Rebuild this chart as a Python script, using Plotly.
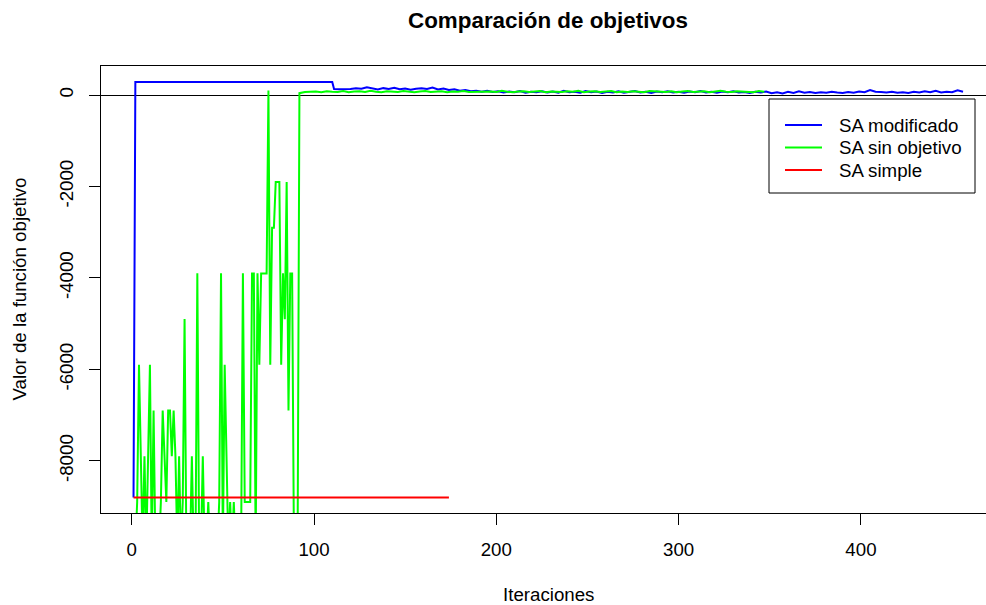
import plotly.graph_objects as go

# ---------------- data ----------------
# SA modificado (blue): start, plateau, then fluctuating part (every 3 iterations)
blue_start_x = [1, 2, 110]
blue_start_y = [-8800, 285, 285]
blue_fluct_x = list(range(111, 457, 3))
blue_fluct_y = [
    130, 125, 120, 130, 150, 135, 170, 140, 120, 150,
    130, 160, 125, 140, 115, 135, 150, 130, 165, 120,
    140, 110, 125, 95, 110, 80, 95, 70, 90, 65,
    80, 55, 75, 60, 85, 50, 70, 60, 80, 55,
    75, 50, 90, 60, 70, 50, 85, 60, 75, 45,
    70, 55, 80, 50, 65, 85, 55, 70, 45, 75,
    60, 80, 55, 70, 50, 75, 60, 85, 55, 70,
    50, 75, 60, 80, 55, 65, 45, 70, 55, 75,
    40, 60, 35, 70, 45, 80, 50, 65, 45, 60,
    50, 70, 55, 45, 65, 50, 75, 60, 110, 70,
    65, 55, 70, 50, 60, 45, 70, 55, 80, 60,
    90, 55, 70, 60, 105, 70,
]

# SA sin objetivo (green): iterations 1..91 one by one, then every 3 iterations
green_early_x = list(range(1, 92))
green_early_y = [
    -9900, -9900, -8900, -5900, -7900, -9900, -7900, -9900, -7900, -5900,
    -9900, -6900, -9900, -9900, -9900, -8900, -6900, -7900, -8900, -6900,
    -6900, -7900, -6900, -7900, -9900, -7900, -9900, -8900, -4900, -9900,
    -9900, -9900, -7900, -9900, -9900, -3900, -9900, -9900, -7900, -9900,
    -9900, -8900, -9900, -9900, -9900, -9900, -9900, -8900, -3900, -9900,
    -5900, -7900, -9900, -8900, -9900, -8900, -9900, -9900, -9900, -9900,
    -3900, -8900, -8900, -8900, -8900, -3900, -3900, -9900, -3900, -5900,
    -3900, -3900, -3900, -3900, 100, -5900, -2900, -2900, -1900, -1900,
    -1900, -5900, -3900, -4900, -1900, -6900, -3900, -3900, -9900, -9900,
    -9900,
]
green_late_x = list(range(92, 349, 3))
green_late_y = [
    40, 65, 70, 75, 60, 80, 70, 65, 85, 60,
    75, 80, 65, 90, 70, 60, 80, 75, 65, 85,
    70, 60, 75, 85, 65, 70, 80, 60, 75, 70,
    85, 65, 70, 60, 80, 75, 65, 90, 70, 60,
    75, 80, 65, 70, 85, 60, 75, 70, 65, 80,
    70, 90, 60, 75, 80, 65, 70, 85, 60, 75,
    65, 80, 70, 60, 85, 75, 70, 65, 80, 60,
    75, 85, 65, 70, 80, 60, 75, 90, 70, 65,
    80, 70, 75, 60, 85, 70,
]

# SA simple (red): constant
red_x = [1, 174]
red_y = [-8800, -8800]

x_ticks = [0, 100, 200, 300, 400]
y_ticks = [0, -2000, -4000, -6000, -8000]
y_ticklabels = ["0", "-2000", "-4000", "-6000", "-8000"]

series_names = ["SA modificado", "SA sin objetivo", "SA simple"]
series_colors = ["#0000FF", "#00FF00", "#FF0000"]

# ---------------- figure ----------------
W, H = 986, 605
L, R, T, B = 101, 0, 66, 92
PW, PH = W - L - R, H - T - B
FONT = "Liberation Sans, Arial, sans-serif"
FS = 18.7


def px2paper_x(px):
    return (px - L) / PW


def px2paper_y(py):
    return (H - B - py) / PH


fig = go.Figure()
fig.add_trace(go.Scatter(x=blue_start_x + blue_fluct_x, y=blue_start_y + blue_fluct_y,
                         mode="lines", name=series_names[0],
                         line=dict(color=series_colors[0], width=2)))
fig.add_trace(go.Scatter(x=green_early_x + green_late_x, y=green_early_y + green_late_y,
                         mode="lines", name=series_names[1],
                         line=dict(color=series_colors[1], width=2)))
fig.add_trace(go.Scatter(x=red_x, y=red_y, mode="lines", name=series_names[2],
                         line=dict(color=series_colors[2], width=2)))

fig.update_layout(
    width=W, height=H,
    margin=dict(l=L, r=R, t=T, b=B, pad=0),
    paper_bgcolor="white", plot_bgcolor="white",
    showlegend=False,
    font=dict(family=FONT, size=FS, color="black"),
    title=dict(text="Comparación de objetivos", x=548 / W, xref="container", xanchor="center",
               y=1 - 20 / H, yref="container", yanchor="middle",
               font=dict(family=FONT, size=22.4, color="black", weight="bold")),
    xaxis=dict(range=[-16.84, 468.6], tickvals=x_ticks, ticktext=[str(v) for v in x_ticks],
               showgrid=False, zeroline=False, showline=True, linecolor="black", linewidth=1,
               mirror=True, ticks="outside", ticklen=11, tickwidth=1, tickcolor="black",
               ticklabelstandoff=9, tickfont=dict(size=FS)),
    yaxis=dict(range=[-9139, 634], tickvals=y_ticks, ticktext=y_ticklabels, tickangle=-90,
               showgrid=False, zeroline=True, zerolinecolor="black", zerolinewidth=1,
               showline=True, linecolor="black", linewidth=1, mirror=False,
               ticks="outside", ticklen=11, tickwidth=1, tickcolor="black",
               ticklabelstandoff=9, tickfont=dict(size=FS)),
)

annotations = [
    dict(text="Iteraciones", x=px2paper_x(548), y=px2paper_y(594), xref="paper", yref="paper",
         showarrow=False, xanchor="center", yanchor="middle", font=dict(size=FS)),
    dict(text="Valor de la función objetivo", x=px2paper_x(19), y=px2paper_y(289.5),
         xref="paper", yref="paper", showarrow=False, textangle=-90,
         xanchor="center", yanchor="middle", font=dict(size=FS)),
]
shapes = [
    dict(type="rect", xref="paper", yref="paper",
         x0=px2paper_x(769), x1=px2paper_x(975), y0=px2paper_y(99), y1=px2paper_y(193),
         line=dict(color="black", width=1), fillcolor="white", layer="above"),
]
legend_rows = [125, 147.5, 170]
for name, color, ry in zip(series_names, series_colors, legend_rows):
    shapes.append(dict(type="line", xref="paper", yref="paper",
                       x0=px2paper_x(785), x1=px2paper_x(822),
                       y0=px2paper_y(ry), y1=px2paper_y(ry),
                       line=dict(color=color, width=2), layer="above"))
    annotations.append(dict(text=name, x=px2paper_x(837), y=px2paper_y(ry), xref="paper",
                            yref="paper", showarrow=False, xanchor="left", yanchor="middle",
                            font=dict(size=FS)))

fig.update_layout(annotations=annotations, shapes=shapes)
fig.write_html("out.html", config={"displayModeBar": False},
               post_script="document.body.style.margin='0';document.body.style.padding='0';")
